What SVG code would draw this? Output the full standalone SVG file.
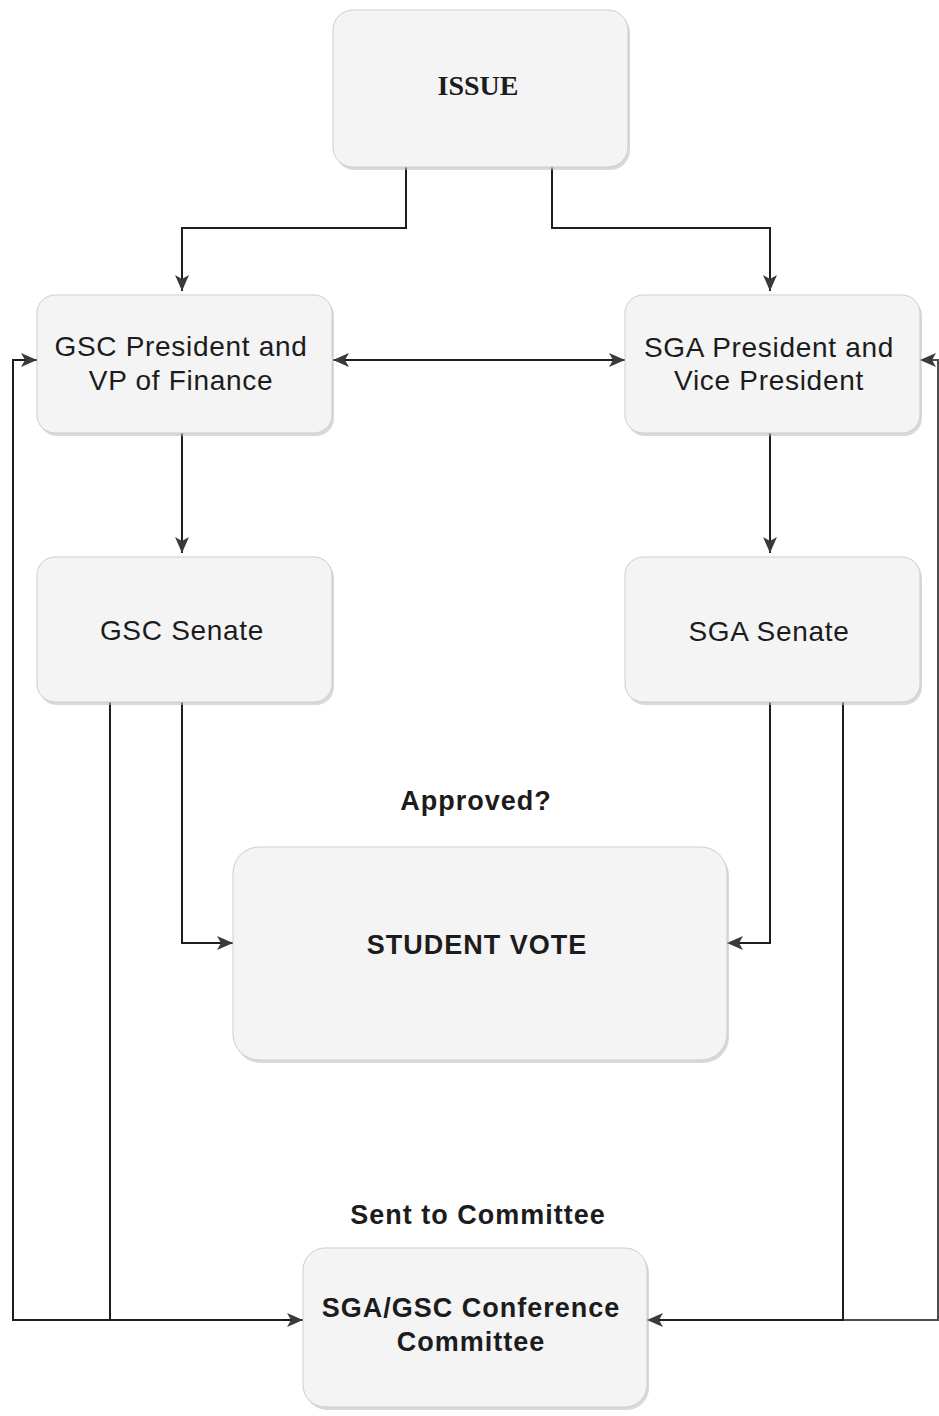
<svg xmlns="http://www.w3.org/2000/svg" width="939" height="1416" viewBox="0 0 939 1416">
<style>
.box{fill:#f4f4f4;stroke:#cdcdcd;stroke-width:1}
.shadow{fill:#b9b9b9;opacity:0.55}
.lbl{font-family:"Liberation Sans",Arial,Helvetica,sans-serif;font-size:28px;letter-spacing:0.7px;fill:#1c1c1c;text-anchor:middle}
.bold{font-family:"Liberation Sans",Arial,Helvetica,sans-serif;font-size:27px;letter-spacing:1px;font-weight:bold;fill:#1c1c1c;text-anchor:middle}
.serif{font-family:"Liberation Serif","Times New Roman",serif;font-size:28px;font-weight:bold;fill:#1c1c1c;text-anchor:middle}
.edge{fill:none;stroke:#1e1e1e;stroke-width:2}
</style>
<defs>
<marker id="arr" viewBox="0 0 16 14" markerWidth="16" markerHeight="14" refX="16" refY="7" orient="auto-start-reverse" markerUnits="userSpaceOnUse">
<path d="M0,0 L16,7 L0,14 L4,7 Z" fill="#3a3a3a"/>
</marker>
</defs>
<rect width="939" height="1416" fill="#ffffff"/>

<g id="connectors">
<path class="edge" d="M406,167 V228 H182 V291" marker-end="url(#arr)"/>
<path class="edge" d="M552,167 V228 H770 V291" marker-end="url(#arr)"/>
<path class="edge" d="M333,360 H625" marker-start="url(#arr)" marker-end="url(#arr)"/>
<path class="edge" d="M182,433 V553" marker-end="url(#arr)"/>
<path class="edge" d="M770,433 V553" marker-end="url(#arr)"/>
<path class="edge" d="M182,702 V943 H233" marker-end="url(#arr)"/>
<path class="edge" d="M770,702 V943 H727" marker-end="url(#arr)"/>
<path class="edge" d="M110,702 V1320 H303" marker-end="url(#arr)"/>
<path class="edge" d="M110,1320 H13 V360 H37" marker-end="url(#arr)"/>
<path class="edge" d="M843,702 V1320 H647" marker-end="url(#arr)"/>
<path class="edge" d="M843,1320 H938 V360 H920" marker-end="url(#arr)" stroke-opacity="0.8"/>
</g>

<g id="issue">
<rect class="shadow" x="335" y="13" width="295" height="157" rx="20"/>
<rect class="box" x="333" y="10" width="295" height="157" rx="20"/>
<text class="serif" x="478" y="95">ISSUE</text>
</g>

<g id="gsc-president">
<rect class="shadow" x="39" y="298" width="295" height="138" rx="18"/>
<rect class="box" x="37" y="295" width="295" height="138" rx="18"/>
<text class="lbl" x="181" y="356">GSC President and</text>
<text class="lbl" x="181" y="390">VP of Finance</text>
</g>

<g id="sga-president">
<rect class="shadow" x="627" y="298" width="295" height="138" rx="18"/>
<rect class="box" x="625" y="295" width="295" height="138" rx="18"/>
<text class="lbl" x="769" y="357">SGA President and</text>
<text class="lbl" x="769" y="390">Vice President</text>
</g>

<g id="gsc-senate">
<rect class="shadow" x="39" y="560" width="295" height="145" rx="18"/>
<rect class="box" x="37" y="557" width="295" height="145" rx="18"/>
<text class="lbl" x="182" y="640">GSC Senate</text>
</g>

<g id="sga-senate">
<rect class="shadow" x="627" y="560" width="295" height="145" rx="18"/>
<rect class="box" x="625" y="557" width="295" height="145" rx="18"/>
<text class="lbl" x="769" y="641">SGA Senate</text>
</g>

<g id="approved-label">
<text class="bold" x="476" y="810">Approved?</text>
</g>

<g id="student-vote">
<rect class="shadow" x="235" y="850" width="494" height="213" rx="26"/>
<rect class="box" x="233" y="847" width="494" height="213" rx="26"/>
<text class="bold" x="477" y="954">STUDENT VOTE</text>
</g>

<g id="sent-label">
<text class="bold" x="478" y="1224">Sent to Committee</text>
</g>

<g id="committee">
<rect class="shadow" x="305" y="1251" width="344" height="159" rx="22"/>
<rect class="box" x="303" y="1248" width="344" height="159" rx="22"/>
<text class="bold" x="471" y="1317" font-size="28" letter-spacing="1.2">SGA/GSC Conference</text>
<text class="bold" x="471" y="1351" font-size="28" letter-spacing="1.2">Committee</text>
</g>
</svg>
